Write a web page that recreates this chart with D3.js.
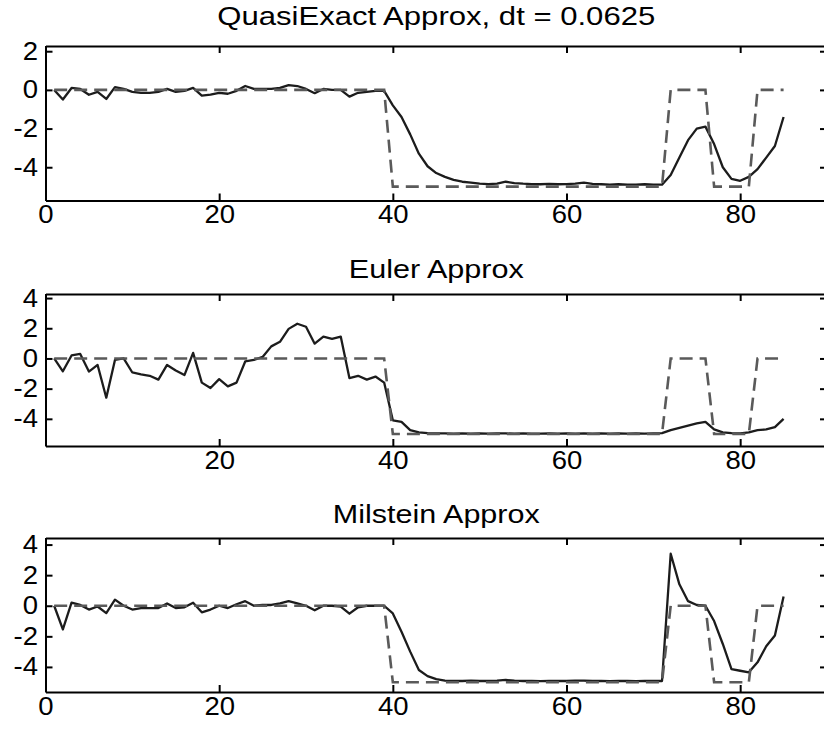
<!DOCTYPE html>
<html>
<head>
<meta charset="utf-8">
<script src="https://cdn.jsdelivr.net/npm/d3@7"></script>
<style>
  html, body { margin: 0; padding: 0; background: #fff; }
  svg { display: block; }
  text { font-family: "Liberation Sans", Arial, Helvetica, sans-serif; fill: #000; }
</style>
</head>
<body>
<svg id="chart" width="824" height="731"></svg>
<script>
// ---------- data ----------
const titles = ["QuasiExact Approx, dt = 0.0625", "Euler Approx", "Milstein Approx"];
const timeSteps = [
  1,2,3,4,5,6,7,8,9,10, 11,12,13,14,15,16,17,18,19,20,
  21,22,23,24,25,26,27,28,29,30, 31,32,33,34,35,36,37,38,39,40,
  41,42,43,44,45,46,47,48,49,50, 51,52,53,54,55,56,57,58,59,60,
  61,62,63,64,65,66,67,68,69,70, 71,72,73,74,75,76,77,78,79,80,
  81,82,83,84,85
];

const trueSignal = [
  0,0,0,0,0,0,0,0,0,0,          // 1-10
  0,0,0,0,0,0,0,0,0,0,          // 11-20
  0,0,0,0,0,0,0,0,0,0,          // 21-30
  0,0,0,0,0,0,0,0,0,-5,         // 31-40
  -5,-5,-5,-5,-5,-5,-5,-5,-5,-5, // 41-50
  -5,-5,-5,-5,-5,-5,-5,-5,-5,-5, // 51-60
  -5,-5,-5,-5,-5,-5,-5,-5,-5,-5, // 61-70
  -5,0,0,0,0,0,-5,-5,-5,-5,      // 71-80
  -5,0,0,0,0                     // 81-85
];

const quasiExact = [
  0,-0.5,0.1,0.05,-0.25,-0.1,-0.47,0.14,0.05,-0.1,
  -0.15,-0.15,-0.1,0.05,-0.1,-0.05,0.1,-0.3,-0.25,-0.15,
  -0.2,-0.05,0.2,0.05,0.05,0.05,0.1,0.25,0.2,0.05,
  -0.17,0.05,0,0,-0.35,-0.15,-0.1,-0.05,-0.05,-0.8,
  -1.4,-2.3,-3.3,-3.95,-4.3,-4.5,-4.65,-4.75,-4.8,-4.85,
  -4.87,-4.85,-4.75,-4.82,-4.85,-4.87,-4.88,-4.86,-4.88,-4.87,
  -4.85,-4.8,-4.86,-4.88,-4.9,-4.88,-4.9,-4.9,-4.88,-4.9,
  -4.9,-4.4,-3.5,-2.6,-2.0,-1.9,-2.8,-4.0,-4.6,-4.7,
  -4.5,-4.1,-3.5,-2.9,-1.4
];

const euler = [
  0,-0.85,0.2,0.3,-0.87,-0.43,-2.6,-0.1,0,-0.93,
  -1.05,-1.15,-1.4,-0.43,-0.8,-1.1,0.37,-1.6,-1.96,-1.37,
  -1.85,-1.6,-0.2,-0.1,0.1,0.8,1.1,1.96,2.3,2.1,
  0.98,1.45,1.3,1.45,-1.3,-1.15,-1.4,-1.2,-1.6,-4.1,
  -4.2,-4.75,-4.9,-4.95,-4.97,-4.97,-4.98,-4.97,-4.98,-4.97,
  -4.98,-4.97,-4.97,-4.98,-4.97,-4.98,-4.98,-4.97,-4.98,-4.97,
  -4.98,-4.97,-4.98,-4.97,-4.98,-4.97,-4.98,-4.97,-4.98,-4.97,
  -4.95,-4.75,-4.6,-4.45,-4.3,-4.2,-4.7,-4.9,-4.95,-4.97,
  -4.9,-4.75,-4.7,-4.55,-4.0
];

const milstein = [
  0,-1.55,0.2,0.05,-0.25,-0.05,-0.48,0.4,0,-0.25,
  -0.15,-0.15,-0.15,0.15,-0.15,-0.1,0.2,-0.43,-0.25,0,
  -0.15,0.1,0.3,0,0.05,0.05,0.15,0.3,0.15,0,
  -0.3,0,0,-0.05,-0.52,-0.1,0,0,0,-0.5,
  -1.7,-3.0,-4.2,-4.6,-4.8,-4.9,-4.92,-4.92,-4.9,-4.92,
  -4.92,-4.9,-4.85,-4.9,-4.92,-4.92,-4.93,-4.92,-4.92,-4.92,
  -4.9,-4.9,-4.92,-4.92,-4.93,-4.92,-4.92,-4.93,-4.92,-4.92,
  -4.92,3.4,1.4,0.3,0.05,0,-1.0,-2.5,-4.15,-4.25,
  -4.35,-3.7,-2.65,-1.95,0.6
];

const approxSeries = [quasiExact, euler, milstein];
const xDomain = [0, 90];
const yDomains = [[-5.72, 2.27], [-5.8, 4.27], [-5.64, 4.43]];
const xTickValues = [[0,20,40,60,80], [20,40,60,80], [0,20,40,60,80]];
const yTickValues = [[-4,-2,0,2], [-4,-2,0,2,4], [-4,-2,0,2,4]];

// ---------- layout ----------
const panels = [
  { top: 46,  bottom: 200.5, titleY: 25,  titleW: 438 },
  { top: 294, bottom: 446,   titleY: 278, titleW: 175 },
  { top: 538, bottom: 692,   titleY: 523, titleW: 207 }
];
const left = 45.5, right = 827;
const svg = d3.select("#chart");

const x = d3.scaleLinear().domain(xDomain).range([left, right]);
const tickLen = 7, fontSize = 25, sx = 1.1;

panels.forEach((p, i) => {
  const y = d3.scaleLinear().domain(yDomains[i]).range([p.bottom, p.top]);
  const g = svg.append("g");

  const styleAxis = sel => {
    sel.selectAll("path.domain").attr("stroke", "#000").attr("stroke-width", 2);
    sel.selectAll(".tick line").attr("stroke", "#000").attr("stroke-width", 2);
  };

  // lines
  const line = d3.line().x((d, k) => x(timeSteps[k])).y(d => y(d));
  g.append("path").datum(approxSeries[i])
    .attr("d", line).attr("fill", "none").attr("stroke", "#1c1c1c")
    .attr("stroke-width", 2.3).attr("stroke-linejoin", "round");
  g.append("path").datum(trueSignal)
    .attr("d", line).attr("fill", "none").attr("stroke", "#5a5a5a")
    .attr("stroke-width", 2.6).attr("stroke-dasharray", "13,7");

  // bottom axis with labels
  const xb = g.append("g").attr("transform", `translate(0,${p.bottom})`)
    .call(d3.axisBottom(x).tickValues(xTickValues[i]).tickSizeInner(-tickLen).tickSizeOuter(0)
      .tickPadding(5).tickFormat(d => String(d)));
  styleAxis(xb);
  xb.selectAll(".tick text").attr("font-size", fontSize)
    .attr("font-family", '"Liberation Sans", Arial, sans-serif').attr("fill", "#000")
    .attr("transform", `scale(${sx},1)`).attr("x", 0);
  // top axis
  const xt = g.append("g").attr("transform", `translate(0,${p.top})`)
    .call(d3.axisTop(x).tickValues([0,20,40,60,80]).tickSizeInner(-tickLen).tickSizeOuter(0).tickFormat(""));
  styleAxis(xt);
  // left axis with labels
  const yl = g.append("g").attr("transform", `translate(${left},0)`)
    .call(d3.axisLeft(y).tickValues(yTickValues[i]).tickSizeInner(-tickLen).tickSizeOuter(0)
      .tickPadding(0).tickFormat(d => String(d)));
  styleAxis(yl);
  yl.selectAll(".tick text").attr("font-size", fontSize)
    .attr("font-family", '"Liberation Sans", Arial, sans-serif').attr("fill", "#000")
    .attr("x", 0).attr("transform", `translate(-7.5,0) scale(${sx},1)`);
  // right axis
  const yr = g.append("g").attr("transform", `translate(${right},0)`)
    .call(d3.axisRight(y).tickValues(yTickValues[i]).tickSizeInner(-tickLen).tickSizeOuter(0).tickFormat(""));
  styleAxis(yr);

  // title
  g.append("text").attr("x", (left + right) / 2).attr("y", p.titleY)
    .attr("text-anchor", "middle").attr("font-size", fontSize)
    .attr("textLength", p.titleW).attr("lengthAdjust", "spacingAndGlyphs")
    .text(titles[i]);
});
</script>
</body>
</html>
